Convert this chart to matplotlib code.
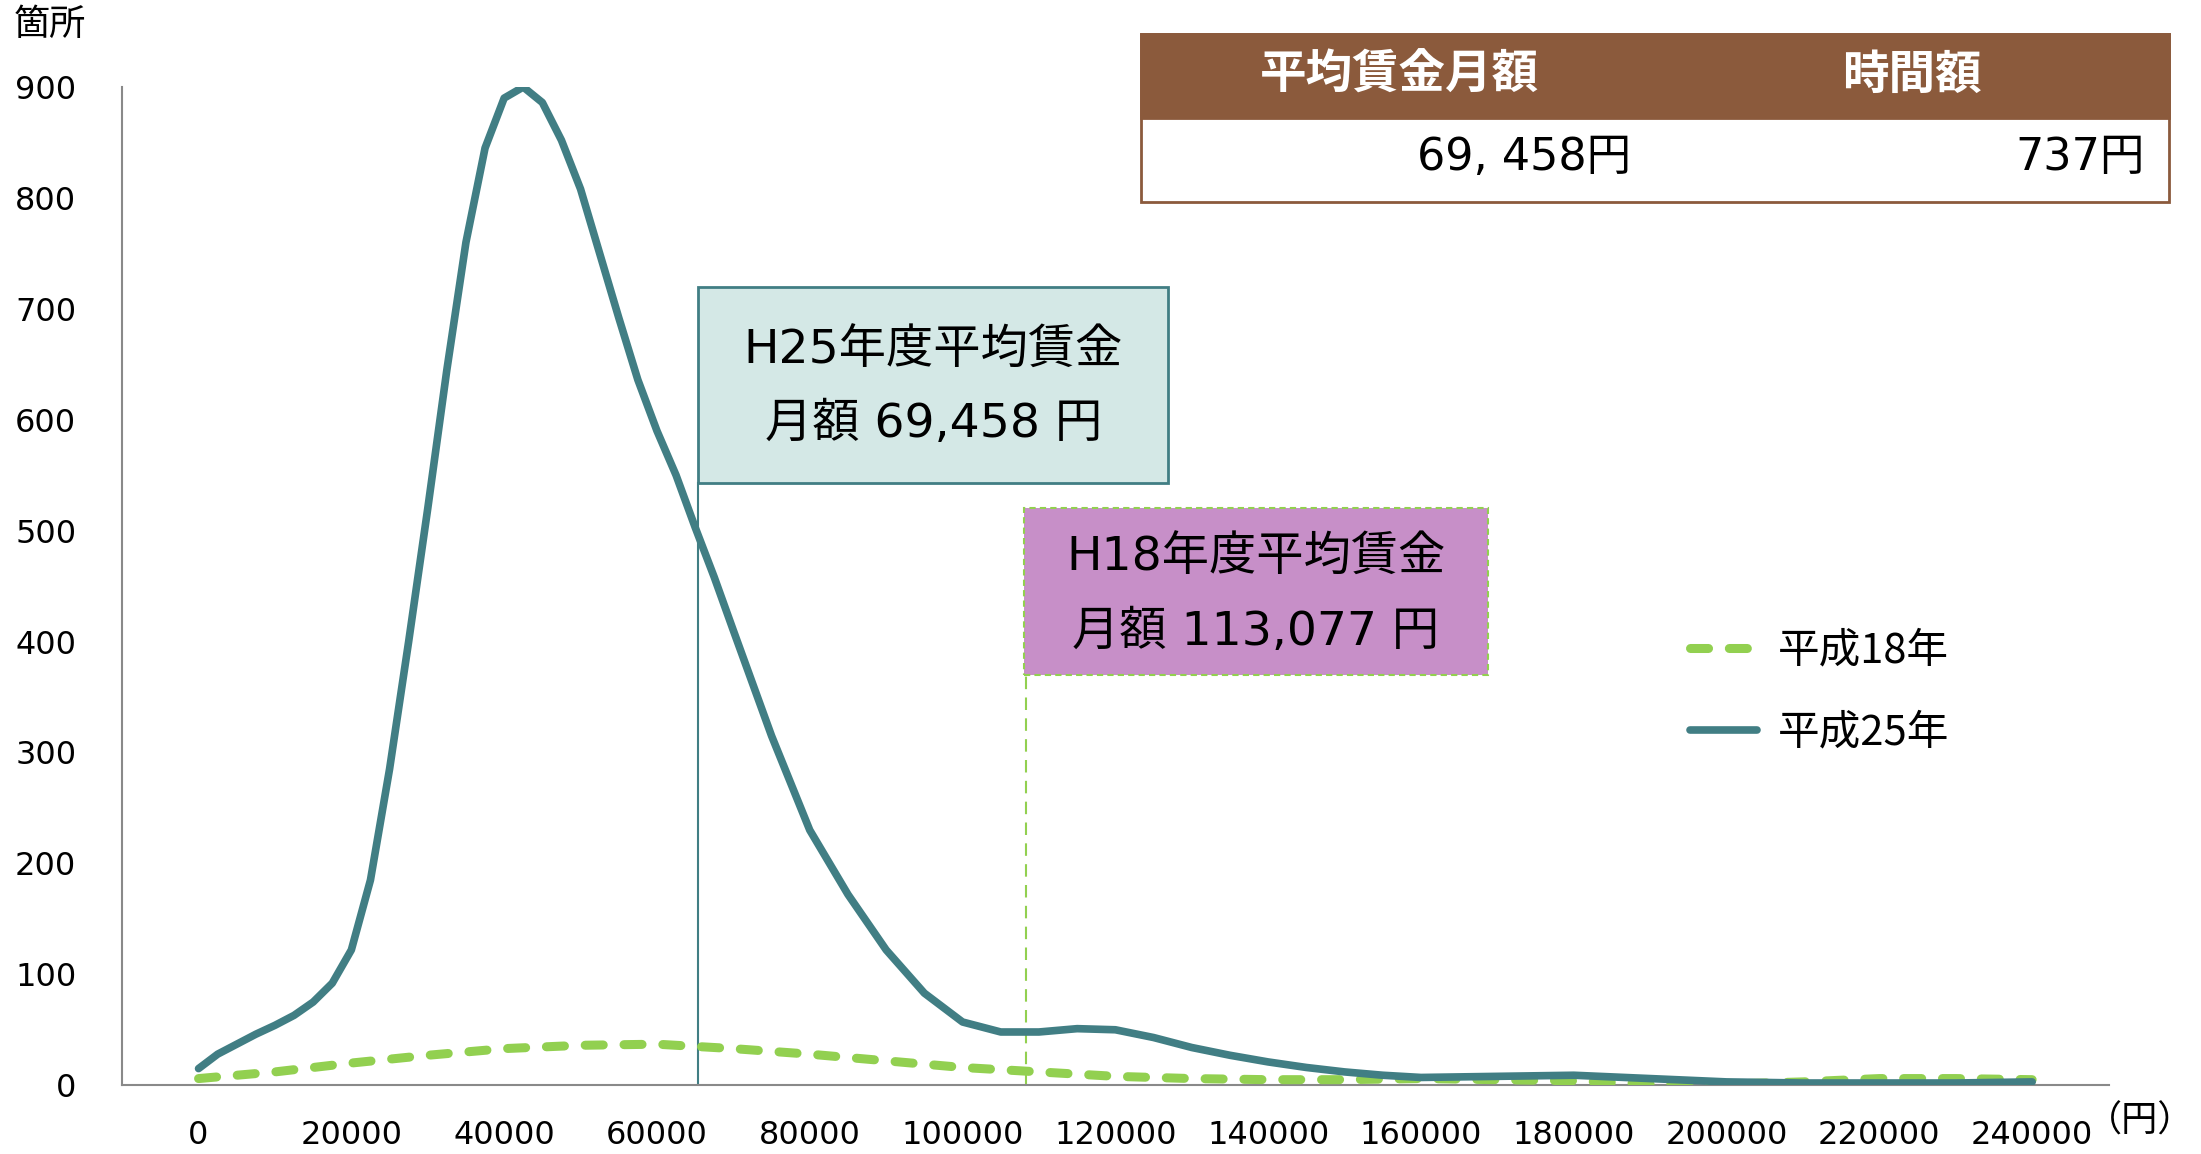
import matplotlib
matplotlib.use("Agg")
from matplotlib import pyplot as plt
from matplotlib.patches import Rectangle

plt.rcParams['font.family'] = ['Noto Sans CJK JP', 'DejaVu Sans']

teal = '#417E84'
green = '#92D050'
brown = '#8B5A3C'
latin = ['DejaVu Sans', 'Noto Sans CJK JP']

# 平成25年
x25 = [0, 2500, 5000, 7500, 10000, 12500, 15000, 17500, 20000, 22500, 25000,
       27500, 30000, 32500, 35000, 37500, 40000, 42500, 45000, 47500, 50000,
       52500, 55000, 57500, 60000, 62500, 65000, 67500, 70000, 75000, 80000,
       85000, 90000, 95000, 100000, 105000, 110000, 115000, 120000, 125000,
       130000, 135000, 140000, 145000, 150000, 155000, 160000, 170000, 180000,
       190000, 200000, 210000, 220000, 230000, 240000]
y25 = [15, 28, 37, 46, 54, 63, 75, 92, 122, 185, 285,
       400, 520, 645, 760, 845, 890, 900, 886, 852, 808,
       750, 692, 636, 590, 550, 503, 458, 410, 315, 230,
       172, 122, 83, 57, 48, 48, 51, 50, 43,
       34, 27, 21, 16, 12, 9, 7, 8, 9,
       6, 3, 2, 2, 2, 3]

# 平成18年
x18 = [0, 10000, 20000, 30000, 40000, 50000, 60000, 70000, 80000, 90000,
       100000, 110000, 120000, 130000, 140000, 150000, 160000, 170000,
       180000, 190000, 200000, 210000, 220000, 230000, 240000]
y18 = [6, 12, 20, 27, 33, 36, 37, 33, 28, 22,
       16, 12, 8, 6, 5, 5, 6, 5,
       4, 1, 1, 3, 6, 6, 5]

xticks = list(range(0, 240001, 20000))
yticks = list(range(0, 901, 100))

fig = plt.figure(figsize=(22.01, 11.54), dpi=100)
ax = fig.add_axes([0.0555, 0.0596, 0.9025, 0.865])

ax.plot(x18, y18, color=green, lw=6.5, dashes=(2.0, 2.3), dash_capstyle='round',
        label='平成18年', zorder=3)
ax.plot(x25, y25, color=teal, lw=5.5, solid_capstyle='round', label='平成25年', zorder=4)

ax.set_xlim(-10000, 250000)
ax.set_ylim(0, 900)
ax.set_xticks(xticks)
ax.set_yticks(yticks)
ax.tick_params(length=0, labelsize=23)
ax.tick_params(axis='y', pad=33)
ax.tick_params(axis='x', pad=25)
for lab in ax.get_xticklabels() + ax.get_yticklabels():
    lab.set_fontfamily(latin)
for s in ['top', 'right']:
    ax.spines[s].set_visible(False)
for s in ['left', 'bottom']:
    ax.spines[s].set_color('#898989')
    ax.spines[s].set_linewidth(1.5)

# H25 annotation
ax.plot([65400, 65400], [0, 543], color=teal, lw=1.5, zorder=2)
ax.add_patch(Rectangle((65400, 543), 61500, 177, facecolor='#D4E8E6',
                       edgecolor=teal, lw=2, zorder=5))
ax.text(96150, 662, 'H25年度平均賃金', ha='center', va='center', fontsize=34,
        family=latin, zorder=6)
ax.text(96150, 596, '月額 69,458 円', ha='center', va='center', fontsize=34,
        family=latin, zorder=6)

# H18 annotation
ax.plot([108360, 108360], [0, 370], color=green, lw=1.5, ls=(0, (6, 4)), zorder=2)
ax.add_patch(Rectangle((107990, 370), 60780, 150, facecolor='#C78FC8',
                       edgecolor=green, lw=1.5, ls=(0, (3, 2)), zorder=5))
ax.text(138380, 475, 'H18年度平均賃金', ha='center', va='center', fontsize=34,
        family=latin, zorder=6)
ax.text(138380, 408, '月額 113,077 円', ha='center', va='center', fontsize=34,
        family=latin, zorder=6)

leg = ax.legend(loc='upper left', bbox_to_anchor=(0.768, 0.454),
                bbox_transform=fig.transFigure, frameon=False, fontsize=30,
                handlelength=1.6, handletextpad=0.5, labelspacing=1.0,
                borderpad=0, borderaxespad=0)

# table
fig.patches.append(Rectangle((0.5185, 0.8248), 0.4668, 0.146, transform=fig.transFigure,
                             facecolor='white', edgecolor=brown, lw=2))
fig.patches.append(Rectangle((0.5185, 0.8978), 0.4668, 0.073, transform=fig.transFigure,
                             facecolor=brown, edgecolor=brown, lw=2))
fig.text(0.6358, 0.9355, '平均賃金月額', ha='center', va='center', fontsize=33.5,
         color='white', fontweight='bold')
fig.text(0.8686, 0.9355, '時間額', ha='center', va='center', fontsize=33.5,
         color='white', fontweight='bold')
fig.text(0.741, 0.8637, '69, 458円', ha='right', va='center', fontsize=32, family=latin)
fig.text(0.9745, 0.8637, '737円', ha='right', va='center', fontsize=32, family=latin)

fig.text(0.0064, 0.978, '箇所', ha='left', va='center', fontsize=26)
fig.text(0.997, 0.028, '（円）', ha='right', va='center', fontsize=26)

fig.savefig('out.png', dpi=100)
